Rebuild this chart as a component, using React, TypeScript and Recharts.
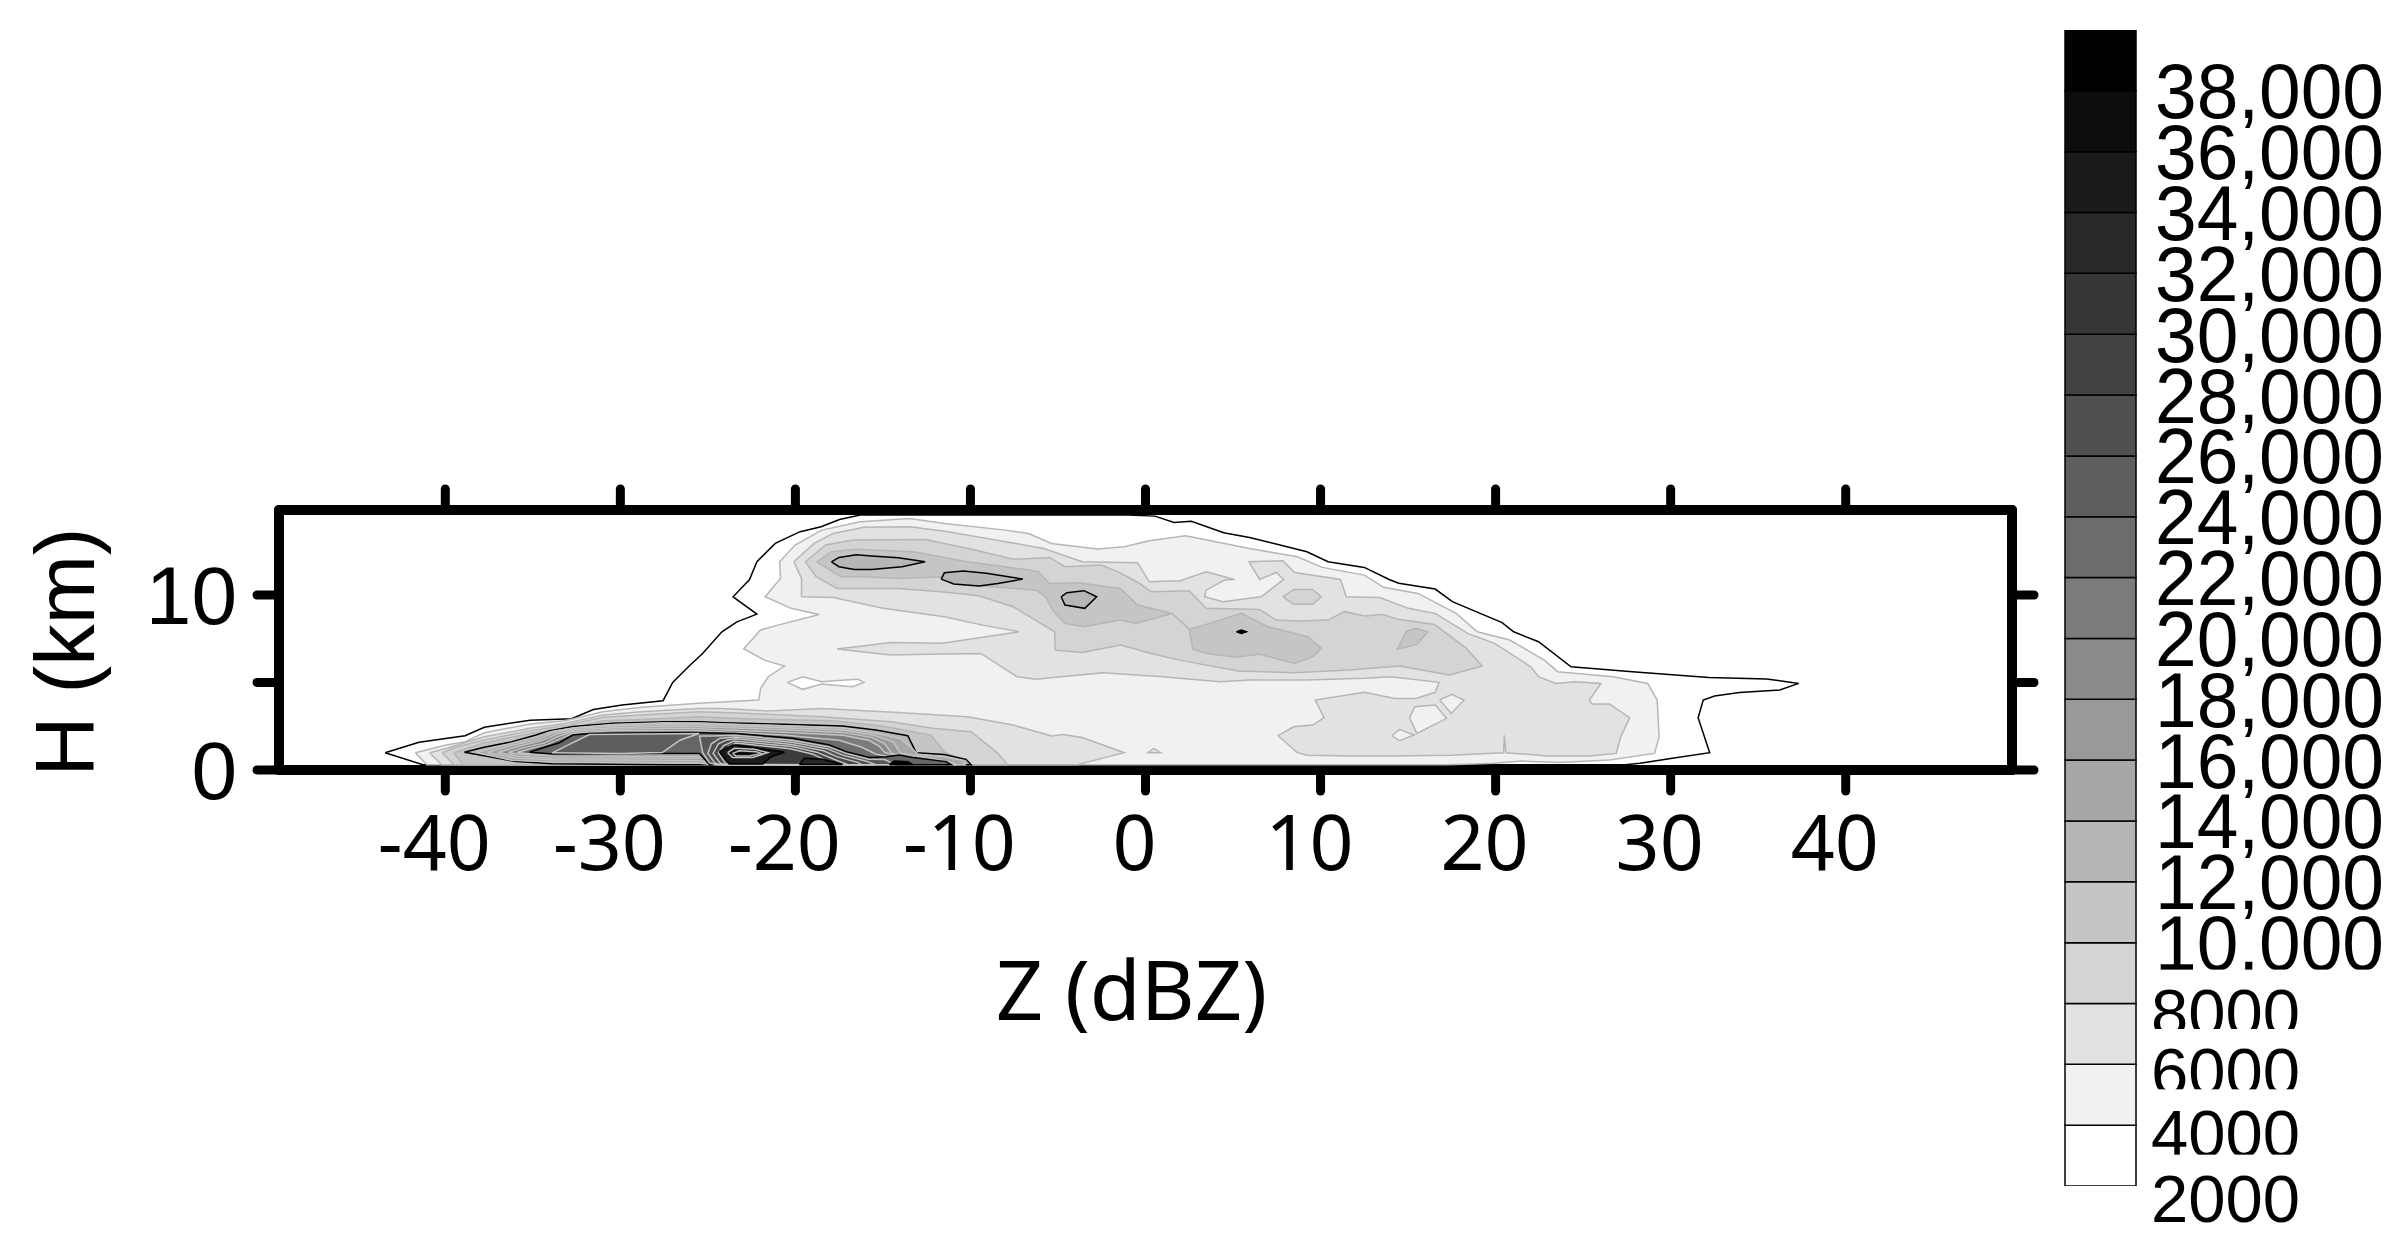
import { Bar, BarChart, Scatter, ScatterChart, XAxis, YAxis } from 'recharts'

type Pt = [number, number]

const xTicks = [-40, -30, -20, -10, 0, 10, 20, 30, 40]
const yTicks = [0, 5, 10]
const levels = [2000, 4000, 6000, 8000, 10000, 12000, 14000, 16000, 18000, 20000, 22000, 24000, 26000, 28000, 30000, 32000, 34000, 36000, 38000]
const levelLabels = ['2000', '4000', '6000', '8000', '10,000', '12,000', '14,000', '16,000', '18,000', '20,000', '22,000', '24,000', '26,000', '28,000', '30,000', '32,000', '34,000', '36,000', '38,000']
const levelGreys = ['#ffffff', '#f1f1f1', '#e2e2e2', '#d4d4d4', '#c5c5c5', '#b6b6b6', '#a7a7a7', '#999999', '#8a8a8a', '#7b7b7b', '#6c6c6c', '#5e5e5e', '#505050', '#434343', '#363636', '#282828', '#1b1b1b', '#0d0d0d', '#000000']

// contours as [dBZ, km]
const outer2000: Pt[] = [[-43.44, 0.99], [-41.5, 1.58], [-38.87, 1.96], [-37.77, 2.44], [-35.15, 2.85], [-32.79, 2.93], [-31.54, 3.46], [-29.9, 3.71], [-27.56, 3.96], [-27.01, 5.01], [-26.07, 5.94], [-25.3, 6.66], [-24.2, 7.9], [-23.34, 8.47], [-22.2, 8.91], [-23.56, 9.9], [-22.62, 10.89], [-22.2, 11.9], [-21.15, 12.95], [-19.73, 13.62], [-18.53, 13.9], [-17.48, 14.32], [-16.3, 14.57], [-1, 14.57], [0.54, 14.51], [1.63, 14.15], [2.62, 14.21], [4.47, 13.56], [5.94, 13.29], [9.22, 12.47], [10.43, 11.9], [12.5, 11.58], [13.92, 10.89], [14.47, 10.67], [16.55, 10.34], [17.53, 9.62], [20.37, 8.42], [21.03, 7.9], [22.45, 7.33], [24.31, 5.9], [27.81, 5.62], [32.18, 5.29], [35.47, 5.2], [37.32, 4.95], [36.23, 4.57], [33.93, 4.43], [32.51, 4.23], [31.86, 4], [31.57, 2.99], [32.23, 0.99], [30, 0.66], [28.25, 0.38], [27.4, 0.3], [-41.27, 0.3]]
const main4000: Pt[] = [[-41.71, 0.99], [-39.96, 1.43], [-38.87, 1.62], [-37.77, 2.13], [-36.46, 2.38], [-35.15, 2.63], [-33.18, 2.82], [-32.31, 3.01], [-30.99, 3.33], [-28.81, 3.58], [-25.53, 3.81], [-22.09, 4], [-21.99, 4.66], [-21.55, 5.33], [-20.63, 5.94], [-21.77, 6.28], [-22.95, 6.93], [-21.99, 8], [-21, 8.28], [-18.64, 8.89], [-20.24, 9.24], [-21.73, 9.9], [-20.85, 10.95], [-20.9, 11.9], [-20.02, 12.86], [-18.49, 13.71], [-16.3, 14.19], [-13.46, 14.38], [-11.49, 14.09], [-8, 13.71], [-6.68, 13.52], [-5.37, 12.95], [-2.74, 12.63], [-1.21, 12.76], [0.21, 13.1], [2.29, 13.39], [5.94, 12.66], [8.67, 12.19], [10.1, 11.58], [12.5, 11.14], [13.6, 10.44], [15.56, 10.09], [17.75, 8.95], [18.95, 7.9], [20.81, 7.43], [22.78, 6.28], [23.55, 5.62], [26.72, 5.33], [28.69, 4.95], [29.23, 4], [29.34, 1.9], [29.08, 0.95], [26.5, 0.57], [23.66, 0.43], [21.47, 0.51], [19.94, 0.38], [18.73, 0.34], [17.2, 0.3], [-41.05, 0.3]]
const hole2000: Pt[] = [[-20.46, 5.01], [-19.58, 5.33], [-18.49, 5.04], [-17.18, 5.14], [-16.41, 5.18], [-16.09, 5.01], [-16.74, 4.76], [-18.49, 4.91], [-19.58, 4.61]]
const main6000: Pt[] = [[-20.09, 11.9], [-18.93, 12.95], [-17.84, 13.52], [-16.09, 13.87], [-13.46, 13.9], [-11.27, 13.62], [-7.99, 13.05], [-5.81, 12.66], [-3.62, 11.9], [-0.45, 11.85], [0.21, 10.76], [1.3, 10.8], [1.94, 10.8], [3.47, 11.33], [5.09, 10.89], [4.52, 10.86], [3.47, 10.28], [3.37, 9.9], [4.42, 9.62], [6.61, 9.9], [7.89, 10.89], [7.47, 11.29], [6.52, 10.89], [5.91, 11.9], [7.85, 11.96], [8.52, 11.29], [11.14, 10.89], [11.47, 9.9], [13.38, 9.86], [15.02, 9.24], [16.55, 8.95], [18.41, 7.81], [19.94, 7.24], [22.01, 5.9], [22.45, 5.33], [23.44, 4.95], [24.53, 5.04], [26.02, 4.95], [25.36, 4], [25.51, 3.77], [26.5, 3.77], [27.66, 2.99], [27.15, 1.9], [26.89, 0.95], [25.4, 0.8], [23, 0.8], [20.59, 0.99], [20.5, 1.98], [20.46, 0.99], [17.42, 0.85], [13.92, 0.8], [11.84, 0.8], [9.22, 0.85], [8.67, 0.99], [7.58, 1.96], [8.46, 2.47], [9.55, 2.57], [10.2, 2.99], [9.7, 4], [12.5, 4.44], [14.25, 4.09], [15.45, 4.09], [16.55, 4.44], [16.77, 5.01], [14.03, 5.33], [12.5, 5.24], [9.22, 5.14], [5.94, 5.14], [4.25, 5.04], [0.97, 5.33], [-2.45, 5.56], [-6.24, 5.18], [-7.34, 5.33], [-9.41, 6.66], [-11.49, 6.63], [-14.55, 6.57], [-17.62, 6.91], [-14.55, 7.29], [-11.6, 7.24], [-7.23, 7.9], [-9.31, 8.28], [-11.49, 8.76], [-14.99, 9.24], [-17.84, 9.86], [-19.65, 9.9], [-19.65, 10.95]]
const hole4000a: Pt[] = [[15.08, 2.99], [15.39, 3.62], [16.55, 3.71], [17.2, 2.95], [15.5, 2.09]]
const hole4000b: Pt[] = [[16.81, 4], [17.49, 4.32], [18.19, 4], [17.47, 3.23]]
const hole4000c: Pt[] = [[14.08, 1.96], [14.51, 2.32], [15.34, 2], [14.51, 1.67]]
const speck6000: Pt[] = [[0.47, 1.23], [0.14, 0.99], [0.87, 0.99]]
const low6000: Pt[] = [[-40.9, 0.99], [-39.96, 1.23], [-37.77, 1.9], [-35.15, 2.38], [-33.18, 2.66], [-30.99, 3.14], [-28.81, 3.33], [-25.49, 3.52], [-24.18, 3.52], [-21.55, 3.37], [-18.49, 3.52], [-14.12, 3.29], [-10.18, 3.04], [-7.56, 2.57], [-5.37, 1.94], [-4.71, 2.03], [-3.62, 1.86], [-1.21, 0.99], [-3.62, 0.38], [-3.84, 0.3], [-40.2, 0.3]]
const main8000: Pt[] = [[-19.43, 11.9], [-18.27, 12.86], [-16.74, 13.14], [-12.59, 13.18], [-9.74, 12.57], [-7.56, 12.04], [-5.48, 12.15], [-4.6, 11.62], [-2.53, 11.71], [-1.43, 11.27], [-0.34, 10.66], [0.32, 10.19], [1.94, 10.23], [2.51, 10.23], [3.47, 9.24], [6.52, 9.18], [7.47, 8.57], [8.8, 8.51], [10.42, 8.57], [11.37, 9.05], [12.52, 8.8], [13.56, 8.89], [14.42, 8.61], [16.52, 8.32], [18.33, 6.95], [19.24, 5.94], [17.37, 5.43], [14.52, 5.94], [11.66, 5.71], [8.51, 5.56], [5.28, 5.66], [1.94, 6.28], [0.32, 6.66], [-1.43, 7.14], [-3.62, 6.72], [-5.15, 6.85], [-5.19, 7.9], [-6.46, 8.66], [-7.56, 9.33], [-9.52, 9.96], [-11.71, 10.19], [-14.12, 10.38], [-17.62, 10.38], [-18.82, 11.05]]
const hex8000: Pt[] = [[7.85, 9.9], [8.48, 10.32], [9.53, 10.32], [10.04, 9.9], [9.56, 9.47], [8.48, 9.47]]
const low8000: Pt[] = [[-40.18, 0.99], [-39.3, 1.33], [-37.77, 1.71], [-35.15, 2.25], [-32.96, 2.57], [-30.99, 3.01], [-28.81, 3.14], [-25.49, 3.33], [-22.87, 3.24], [-18.49, 3.04], [-14.55, 2.76], [-12.15, 2.38], [-9.96, 2.19], [-8.43, 0.95], [-7.88, 0.3], [-39.5, 0.3]]
const upper10000: Pt[] = [[-18.78, 11.9], [-17.94, 12.47], [-16.52, 12.61], [-13.24, 12.47], [-10.18, 11.9], [-6.9, 11.46], [-6.13, 11.33], [-5.48, 10.66], [-3.84, 10.7], [-1.43, 10.38], [-0.45, 9.43], [1.52, 8.95], [2.51, 8.04], [1.52, 8.95], [-0.56, 8.38], [-1.43, 8.57], [-3.51, 8.19], [-4.6, 8.38], [-5.26, 9.05], [-5.7, 9.9], [-6.24, 10.28], [-9.52, 10.53], [-11.49, 11.05], [-14.12, 10.95], [-16.09, 11.05], [-17.4, 11.05]]
const mid10000: Pt[] = [[2.51, 8.04], [3.66, 8.38], [5.47, 8.95], [6.99, 8.19], [9.28, 7.62], [10.04, 6.95], [9.56, 6.48], [8.51, 6.09], [6.52, 6.61], [5.18, 6.44], [3.66, 6.63], [2.71, 6.89]]
const right10000: Pt[] = [[14.9, 7.94], [15.47, 8.09], [16.13, 7.9], [15.51, 7.18], [14.38, 6.89]]
const low10000: Pt[] = [[-39.52, 0.99], [-37.77, 1.56], [-35.15, 2.09], [-32.96, 2.38], [-30.99, 2.82], [-28.81, 2.89], [-25.49, 3.05], [-22.06, 2.9], [-17.87, 2.82], [-15.01, 2.51], [-12.26, 1.99], [-11.49, 1.04], [-9.96, 0.3], [-39, 0.3]]
const peak12000a: Pt[] = [[-17.94, 11.9], [-17.51, 12.15], [-16.52, 12.3], [-15.65, 12.23], [-14.12, 12.13], [-12.59, 11.9], [-13.9, 11.62], [-15.65, 11.46], [-16.63, 11.46], [-17.51, 11.62]]
const peak12000b: Pt[] = [[-11.67, 10.91], [-11.49, 11.27], [-10.4, 11.37], [-9.09, 11.24], [-7.01, 10.91], [-8.43, 10.66], [-9.52, 10.51], [-10.95, 10.63]]
const peak12000c: Pt[] = [[-4.82, 9.9], [-4.49, 10.13], [-3.51, 10.25], [-2.79, 9.9], [-3.47, 9.24], [-4.6, 9.43]]
const peak12000d: Pt[] = [[5.2, 7.9], [5.48, 8], [5.76, 7.9], [5.48, 7.8]]
const low12000: Pt[] = [[-38.91, 1.01], [-37.86, 1.29], [-36.34, 1.58], [-34.82, 2], [-34.05, 2.25], [-32.72, 2.48], [-30.43, 2.67], [-27.39, 2.76], [-25.49, 2.76], [-24.16, 2.7], [-20.73, 2.61], [-17.3, 2.51], [-15.4, 2.29], [-13.58, 1.96], [-13.1, 0.99], [-11.49, 0.89], [-10.25, 0.61], [-9.96, 0.3], [-27, 0.3], [-33.86, 0.36], [-35.96, 0.48], [-37.48, 0.76]]
const low14000: Pt[] = [[-38.2, 1], [-36.5, 1.45], [-34.9, 1.85], [-33.9, 2.2], [-32.6, 2.42], [-30.4, 2.6], [-27.4, 2.7], [-25.5, 2.68], [-20.7, 2.53], [-17.3, 2.4], [-15.4, 2.1], [-14, 1.8], [-13.3, 1.2], [-13, 0.9], [-11.5, 0.75], [-10.5, 0.55], [-10.3, 0.3], [-24.7, 0.3], [-25.6, 0.4], [-27, 0.42], [-33.8, 0.46], [-36.2, 0.55]]
const low16000: Pt[] = [[-37.6, 1], [-36.2, 1.4], [-34.7, 1.75], [-33.8, 2.12], [-32.6, 2.38], [-30.4, 2.52], [-27.4, 2.6], [-25.5, 2.58], [-20.7, 2.42], [-17.3, 2.28], [-15.5, 1.98], [-14.4, 1.6], [-14, 0.95], [-12.4, 0.72], [-11, 0.4], [-10.8, 0.3], [-24.6, 0.3], [-25.4, 0.55], [-27, 0.56], [-33.8, 0.58], [-36, 0.68]]
const low18000: Pt[] = [[-37, 1], [-35.9, 1.33], [-34.5, 1.68], [-33.6, 2.05], [-32.6, 2.3], [-30.4, 2.42], [-27.4, 2.48], [-25.5, 2.47], [-20.7, 2.3], [-17.3, 2.15], [-15.6, 1.85], [-14.9, 1.5], [-14.5, 0.95], [-12.8, 0.65], [-11.6, 0.3], [-24.5, 0.3], [-25.2, 0.68], [-27, 0.68], [-33.8, 0.68], [-35.8, 0.78]]
const low20000: Pt[] = [[-36.4, 1], [-35.6, 1.25], [-34.3, 1.55], [-33.6, 1.9], [-32.7, 2.2], [-30.4, 2.33], [-27.4, 2.37], [-25.5, 2.36], [-20.7, 2.16], [-17.3, 1.98], [-15.8, 1.7], [-15.2, 1.35], [-14.9, 1], [-13.3, 0.6], [-12.2, 0.3], [-24.5, 0.3], [-25.1, 0.78], [-27, 0.78], [-33.8, 0.8], [-35.6, 0.88]]
const low22000: Pt[] = [[-35.9, 1], [-35.2, 1.2], [-34.2, 1.45], [-33.5, 1.75], [-32.7, 2.1], [-30.4, 2.24], [-27.4, 2.26], [-25.5, 2.25], [-20.7, 2], [-17.5, 1.7], [-16.2, 1.3], [-15.4, 0.9], [-14.2, 0.7], [-13, 0.3], [-24.6, 0.3], [-25.1, 0.88], [-27, 0.88], [-33.8, 0.88], [-35.4, 0.95]]
const low24000: Pt[] = [[-35.2, 1.01], [-34.24, 1.33], [-33.48, 1.56], [-32.72, 2], [-31.77, 2.09], [-25.86, 2.15], [-23.4, 2.09], [-20.16, 1.81], [-18.06, 1.43], [-17.1, 1.05], [-15.77, 0.72], [-14.82, 0.76], [-14.06, 0.86], [-13.3, 0.72], [-11.39, 0.48], [-11.1, 0.3], [-24.9, 0.3], [-25.48, 0.95], [-27.77, 0.95], [-33.86, 0.91]]
const plateau26000: Pt[] = [[-33.9, 0.98], [-31.77, 2.03], [-25.5, 2.09], [-26.6, 1.7], [-27.6, 1], [-30, 0.95]]
const ring26000: Pt[] = [[-24.9, 0.4], [-25.3, 1], [-25.48, 1.94], [-24.8, 1.95], [-23.4, 1.98], [-20.2, 1.7], [-18.1, 1.33], [-17.1, 0.95], [-15.8, 0.62], [-14.9, 0.6], [-14.3, 0.3], [-24.5, 0.3]]
const ring28000: Pt[] = [[-24.6, 0.4], [-25, 0.95], [-24.8, 1.5], [-24.3, 1.82], [-23.4, 1.88], [-20.2, 1.58], [-18.2, 1.22], [-17.3, 0.85], [-16, 0.52], [-15.4, 0.3], [-24.3, 0.3]]
const ring30000: Pt[] = [[-24.3, 0.4], [-24.7, 0.95], [-24.4, 1.5], [-23.9, 1.72], [-23.4, 1.78], [-20.2, 1.46], [-18.4, 1.1], [-17.6, 0.75], [-16.4, 0.42], [-16.2, 0.3], [-24, 0.3]]
const ring32000: Pt[] = [[-24, 0.38], [-24.4, 0.98], [-24.1, 1.4], [-23.5, 1.66], [-20.2, 1.34], [-18.8, 1.02], [-17.9, 0.66], [-17, 0.3], [-23.8, 0.3]]
const ring34000: Pt[] = [[-23.8, 0.32], [-24.2, 1], [-23.8, 1.36], [-23.4, 1.54], [-20.3, 1.22], [-19, 0.9], [-18.3, 0.58], [-17.7, 0.3]]
const core36000: Pt[] = [[-24.35, 1.05], [-23.59, 1.43], [-22.63, 1.33], [-20.63, 1.01], [-21.39, 0.76], [-21.87, 0.34], [-23.78, 0.34]]
const core37000: Pt[] = [[-23.87, 0.99], [-23.49, 1.24], [-22.35, 1.18], [-21.58, 0.99], [-22.44, 0.72], [-23.59, 0.72]]
const core38000: Pt[] = [[-23.59, 0.95], [-23.2, 1.1], [-22.25, 1.05], [-21.97, 0.95], [-22.63, 0.8], [-23.4, 0.8]]
const foot36000: Pt[] = [[-19.77, 0.32], [-19.49, 0.67], [-18.44, 0.61], [-17.3, 0.32]]
const foot38000: Pt[] = [[-14.63, 0.32], [-14.35, 0.51], [-13.58, 0.47], [-13.3, 0.32]]

const GREY = '#b6b6b6'
const PALE = '#c4c4c4'
const BLACK = '#000'

const layers: { points: Pt[]; fill: string; stroke: string }[] = [
  { points: outer2000, fill: '#ffffff', stroke: BLACK },
  { points: main4000, fill: '#f1f1f1', stroke: GREY },
  { points: hole2000, fill: '#ffffff', stroke: GREY },
  { points: main6000, fill: '#e2e2e2', stroke: GREY },
  { points: hole4000a, fill: '#f1f1f1', stroke: GREY },
  { points: hole4000b, fill: '#f1f1f1', stroke: GREY },
  { points: hole4000c, fill: '#f1f1f1', stroke: GREY },
  { points: speck6000, fill: '#e2e2e2', stroke: GREY },
  { points: low6000, fill: '#e2e2e2', stroke: GREY },
  { points: main8000, fill: '#d4d4d4', stroke: GREY },
  { points: hex8000, fill: '#d4d4d4', stroke: GREY },
  { points: low8000, fill: '#d4d4d4', stroke: GREY },
  { points: upper10000, fill: '#c5c5c5', stroke: GREY },
  { points: mid10000, fill: '#c5c5c5', stroke: GREY },
  { points: right10000, fill: '#c5c5c5', stroke: GREY },
  { points: low10000, fill: '#c5c5c5', stroke: GREY },
  { points: peak12000a, fill: '#b6b6b6', stroke: BLACK },
  { points: peak12000b, fill: '#b6b6b6', stroke: BLACK },
  { points: peak12000c, fill: '#b6b6b6', stroke: BLACK },
  { points: peak12000d, fill: '#000000', stroke: BLACK },
  { points: low12000, fill: '#b6b6b6', stroke: BLACK },
  { points: low14000, fill: '#a7a7a7', stroke: PALE },
  { points: low16000, fill: '#999999', stroke: PALE },
  { points: low18000, fill: '#8a8a8a', stroke: PALE },
  { points: low20000, fill: '#7b7b7b', stroke: PALE },
  { points: low22000, fill: '#6c6c6c', stroke: PALE },
  { points: low24000, fill: '#666666', stroke: BLACK },
  { points: plateau26000, fill: '#5e5e5e', stroke: PALE },
  { points: ring26000, fill: '#585858', stroke: PALE },
  { points: ring28000, fill: '#505050', stroke: PALE },
  { points: ring30000, fill: '#484848', stroke: PALE },
  { points: ring32000, fill: '#434343', stroke: PALE },
  { points: ring34000, fill: '#3c3c3c', stroke: PALE },
  { points: core36000, fill: '#1b1b1b', stroke: BLACK },
  { points: core37000, fill: '#141414', stroke: PALE },
  { points: core38000, fill: '#0d0d0d', stroke: PALE },
  { points: foot36000, fill: '#282828', stroke: BLACK },
  { points: foot38000, fill: '#000000', stroke: BLACK },
]

const toRows = (points: Pt[]) => [...points, points[0]].map(([x, y]) => ({ x, y }))

const NoDot = () => <g />
const noLabel = () => ''

const tickLine = { stroke: '#000', strokeWidth: 9, strokeLinecap: 'round' as const }
const axisLine = { stroke: '#000', strokeWidth: 10, strokeLinecap: 'round' as const }

function ContourChart() {
  return (
    <ScatterChart
      width={2404}
      height={1251}
      margin={{ top: 480, right: 362, bottom: 0, left: 0 }}
      style={{ position: 'absolute', left: 0, top: 0 }}
    >
      <XAxis
        type="number"
        dataKey="x"
        domain={[-49.5, 49.5]}
        ticks={xTicks}
        interval={0}
        height={481}
        tickSize={21}
        tickMargin={24}
        axisLine={axisLine}
        tickLine={tickLine}
        tick={{ fontFamily: 'Noto Sans', fontSize: 77, fill: '#000', dx: -11 }}
        allowDataOverflow
        label={{
          value: 'Z (dBZ)',
          position: 'insideTop',
          offset: 191,
          dx: -14,
          style: { fontFamily: 'Noto Sans', fontSize: 83, fill: '#000' },
        }}
      />
      <XAxis
        xAxisId="top"
        orientation="top"
        type="number"
        dataKey="x"
        domain={[-49.5, 49.5]}
        ticks={xTicks}
        interval={0}
        height={30}
        tickSize={21}
        axisLine={axisLine}
        tickLine={tickLine}
        tickFormatter={noLabel}
        allowDataOverflow
      />
      <YAxis
        type="number"
        dataKey="y"
        domain={[0, 14.86]}
        ticks={yTicks}
        interval={0}
        width={279}
        tickSize={22}
        tickMargin={20}
        axisLine={axisLine}
        tickLine={tickLine}
        tickFormatter={(v: number) => (v === 5 ? '' : String(v))}
        tick={{ fontFamily: 'Liberation Sans', fontSize: 82, fill: '#000' }}
        allowDataOverflow
        label={{
          value: 'H (km)',
          angle: -90,
          position: 'insideLeft',
          dx: 60,
          dy: 12,
          style: { fontFamily: 'Liberation Sans', fontSize: 83, fill: '#000', textAnchor: 'middle' },
        }}
      />
      <YAxis
        yAxisId="right"
        orientation="right"
        type="number"
        dataKey="y"
        domain={[0, 14.86]}
        ticks={yTicks}
        interval={0}
        width={30}
        tickSize={22}
        axisLine={axisLine}
        tickLine={tickLine}
        tickFormatter={noLabel}
        allowDataOverflow
      />
      {/* keeps the top and right axes tied to a series so that they draw their ticks */}
      <Scatter xAxisId="top" yAxisId="right" data={toRows(outer2000)} isAnimationActive={false} shape={NoDot} />
      {layers.map((layer, i) => (
        <Scatter
          key={i}
          data={toRows(layer.points)}
          isAnimationActive={false}
          shape={NoDot}
          line={{ fill: layer.fill, stroke: layer.stroke, strokeWidth: 1.5 }}
        />
      ))}
    </ScatterChart>
  )
}

const BAR_LEFT = 2040

function ColorbarTick(props: any) {
  const { y, payload } = props
  const i = levels.indexOf(payload.value)
  const small = payload.value < 10000
  const baseline = { 2000: 36.4, 4000: 31.4, 6000: 31, 8000: 33 }[payload.value as number] ?? 27.5
  const clip = { 4000: 29.5, 6000: 25, 8000: 25.5, 10000: 27 }[payload.value as number]
  const textX = (small ? 2151 : 2155) - BAR_LEFT
  return (
    <g>
      <text
        x={textX}
        y={y + baseline}
        fontFamily="Liberation Sans"
        fontSize={small ? 67 : 77}
        fill="#000"
        {...(small ? {} : { textLength: 229, lengthAdjust: 'spacingAndGlyphs' })}
      >
        {levelLabels[i]}
      </text>
      {clip !== undefined && <rect x={textX} y={y + clip} width={240} height={14} fill="#fff" />}
    </g>
  )
}

const barRow: Record<string, number | string> = { name: 'bar', base: levels[0] }
levels.forEach((level) => {
  barRow['b' + level] = 2000
})

function Colorbar() {
  return (
    <BarChart
      width={364}
      height={1251}
      data={[barRow]}
      barCategoryGap={0}
      margin={{ top: 30, right: 0, bottom: 65, left: 25 }}
      style={{ position: 'absolute', left: BAR_LEFT, top: 0 }}
    >
      <XAxis dataKey="name" hide />
      <YAxis
        orientation="right"
        type="number"
        domain={[2000, 40000]}
        ticks={levels}
        interval={0}
        width={268}
        axisLine={false}
        tickLine={false}
        allowDataOverflow
        tick={<ColorbarTick />}
      />
      <Bar dataKey="base" stackId="scale" fill="none" stroke="none" isAnimationActive={false} />
      {levels.map((level, i) => (
        <Bar
          key={level}
          dataKey={'b' + level}
          stackId="scale"
          fill={levelGreys[i]}
          stroke="#000"
          strokeWidth={1.5}
          isAnimationActive={false}
        />
      ))}
    </BarChart>
  )
}

export default function App() {
  return (
    <div style={{ position: 'absolute', left: 0, top: 0, width: 2404, height: 1251, background: '#fff', overflow: 'hidden' }}>
      <ContourChart />
      <Colorbar />
    </div>
  )
}
